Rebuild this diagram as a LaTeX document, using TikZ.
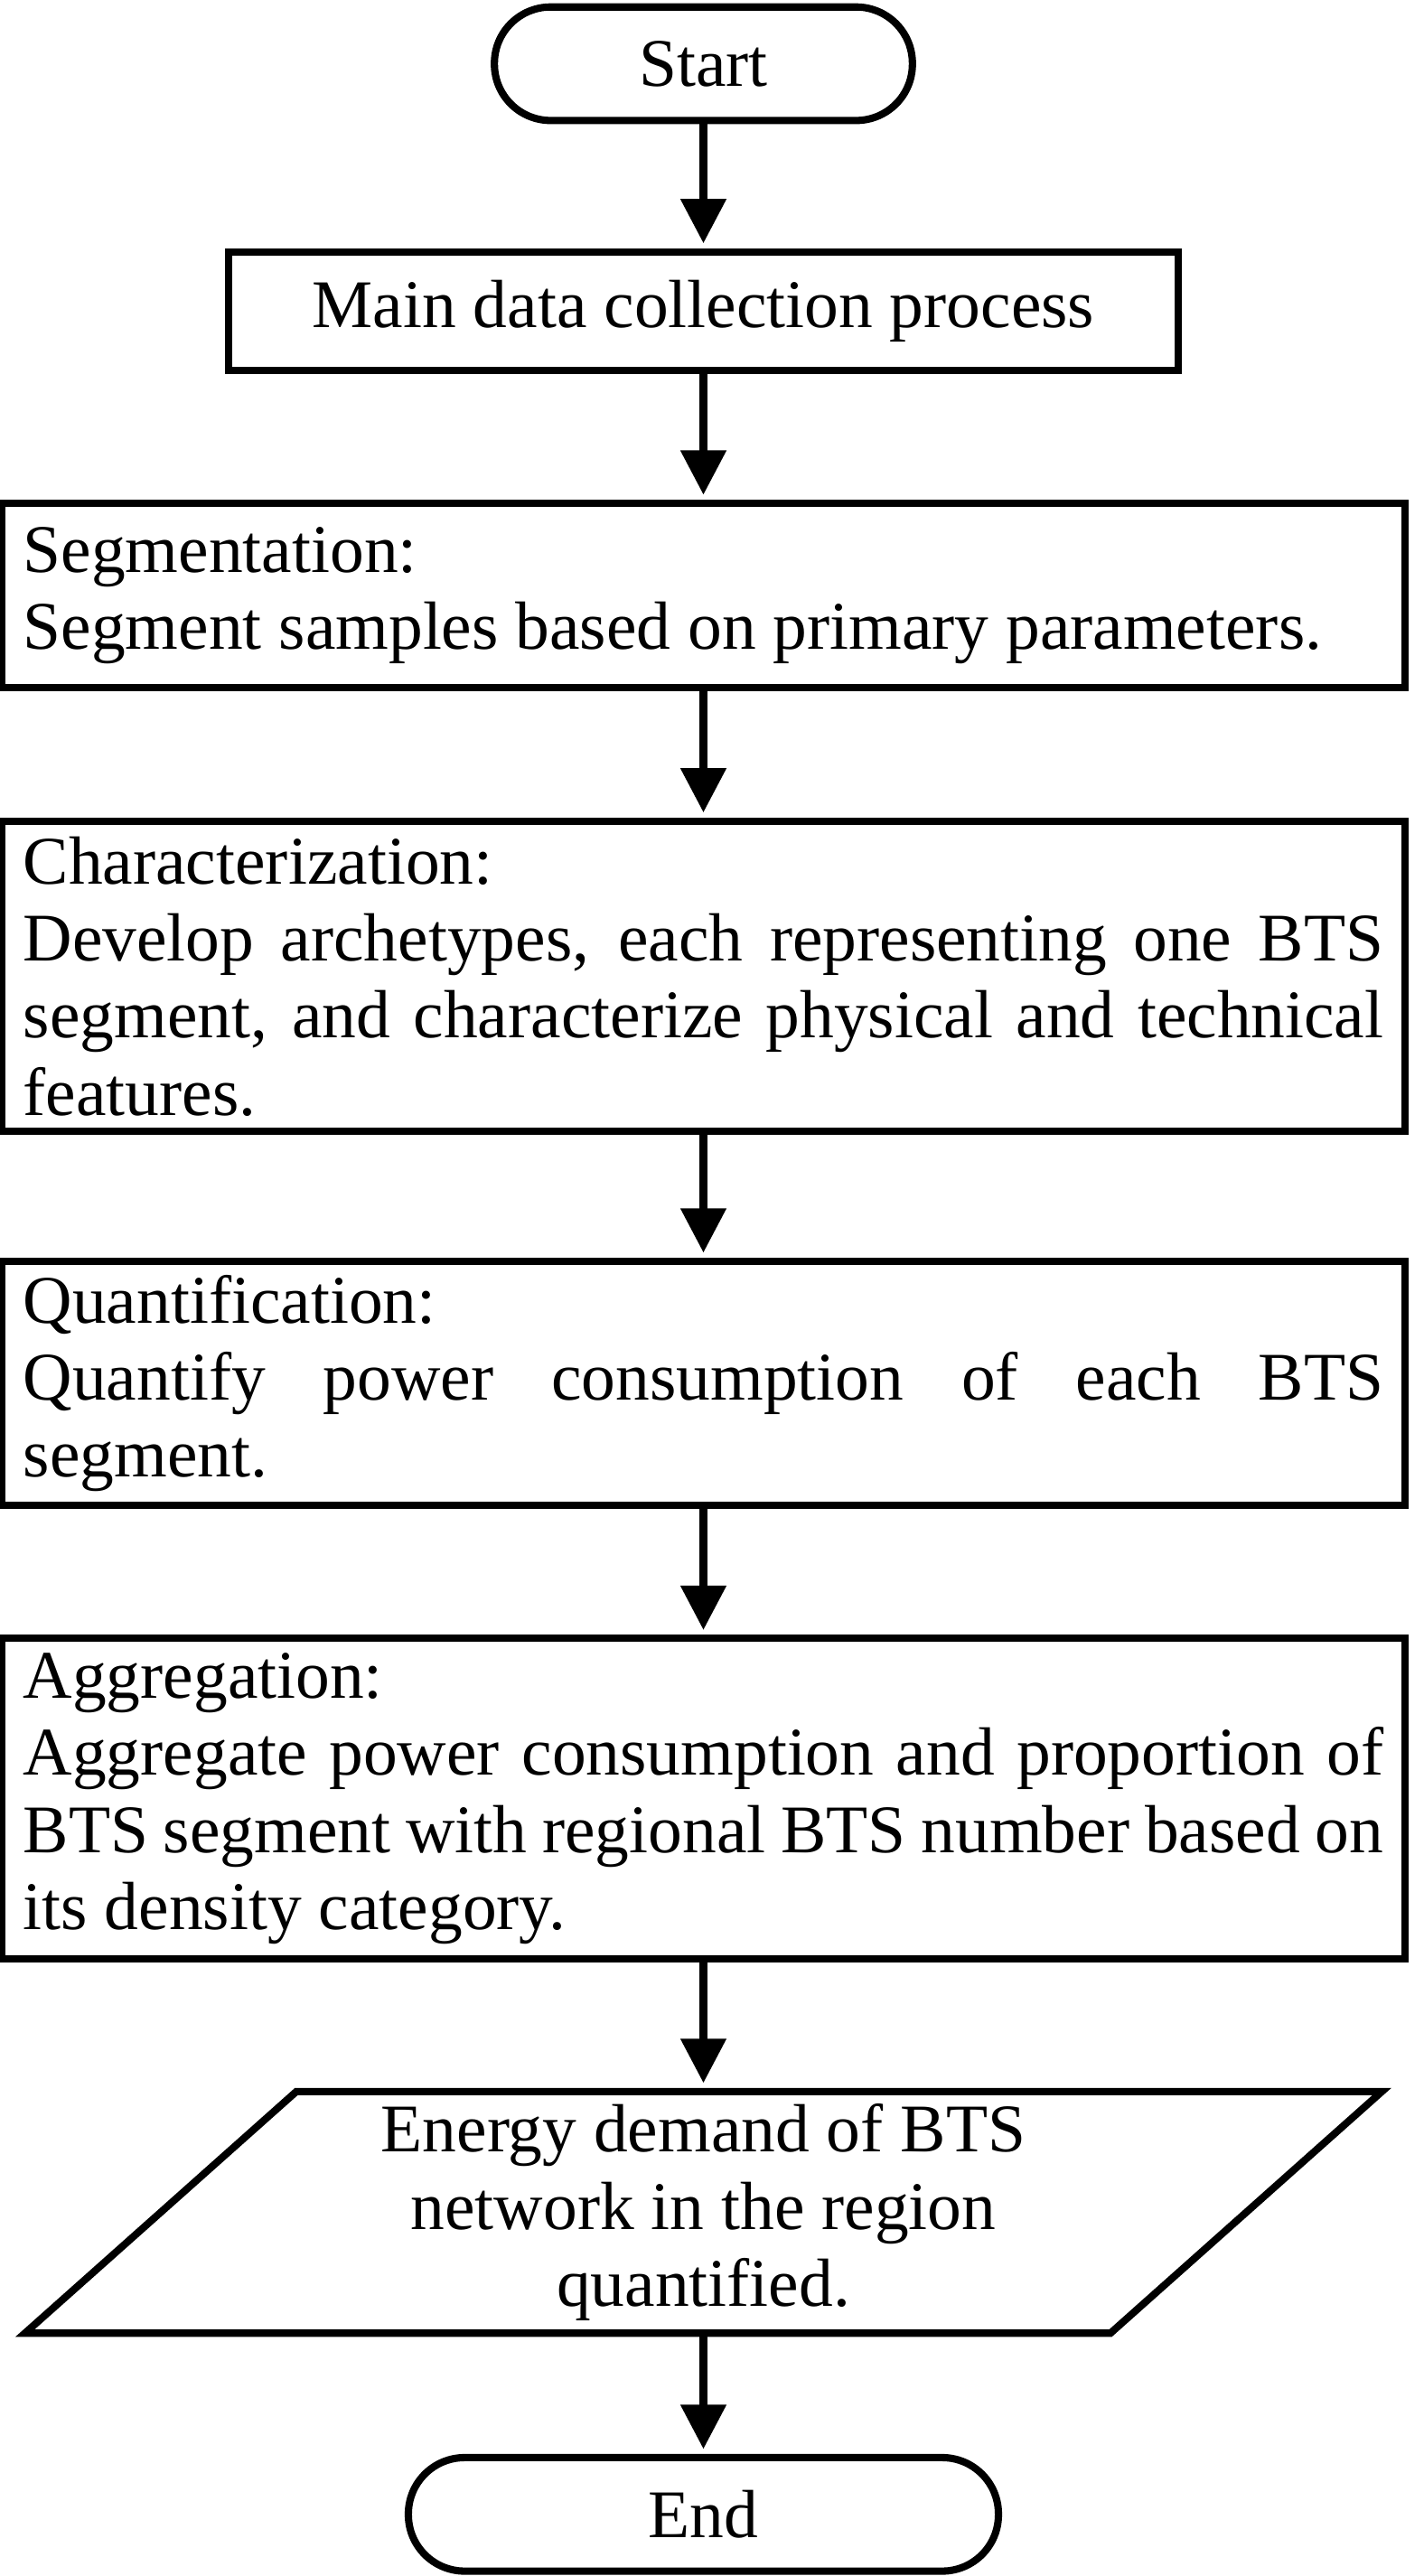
\documentclass[tikz,border=0pt]{standalone}
\usepackage{fontspec}
\setmainfont{Liberation Serif}
\usetikzlibrary{arrows.meta}
\setlength{\parindent}{0pt}

\begin{document}
\begin{tikzpicture}[
        every node/.style={font=\fontsize{20.6}{23.3}\selectfont},
        terminal/.style={draw, line width=2.2pt, rounded corners=17pt, minimum height=34.3pt},
        process/.style={draw, line width=2.2pt, minimum width=286.8pt, minimum height=35.8pt},
        stepbox/.style={draw, line width=2.2pt, text width=411pt, inner xsep=6.5pt, inner ysep=0pt, align=justify},
        iobox/.style={inner sep=0pt, outer sep=0pt, minimum width=328pt, minimum height=73pt, align=center},
        flow/.style={line width=2.2pt, -{Triangle[length=13.4pt, width=13.4pt]}, shorten >=1.5pt}
    ]
        \useasboundingbox (0,0) rectangle (15.113,-27.357);
        \node[terminal, minimum width=126.3pt] (start) at (7.47,-0.677) {Start};
        \node[process] (collect) at (7.47,-3.304) {Main data collection process};
        \node[stepbox, minimum height=55.8pt] (segment) at (7.47,-6.326)
            {Segmentation:\\Segment samples based on primary parameters.};
        \node[stepbox, minimum height=93.8pt] (character) at (7.47,-10.368)
            {Characterization:\\Develop archetypes, each representing one BTS\linebreak segment, and characterize physical and technical\linebreak features.};
        \node[stepbox, minimum height=73.8pt] (quantify) at (7.47,-14.691)
            {Quantification:\\Quantify power consumption of each BTS\linebreak segment.};
        \node[stepbox, minimum height=96.8pt] (aggregate) at (7.47,-19.102)
            {Aggregation:\\Aggregate power consumption and proportion of\linebreak BTS segment with regional BTS number based on\linebreak its density category.};
        \node[iobox] (demand) at (7.47,-23.495) {Energy demand of BTS\\network in the region\\quantified.};
        \draw[line width=2.2pt] ([xshift=41pt]demand.north west) -- ([xshift=41pt]demand.north east)
            -- ([xshift=-41pt]demand.south east) -- ([xshift=-41pt]demand.south west) -- cycle;
        \node[terminal, minimum width=178.3pt] (finish) at (7.47,-26.702) {End};
        \draw[flow] (start) -- (collect);
        \draw[flow] (collect) -- (segment);
        \draw[flow] (segment) -- (character);
        \draw[flow] (character) -- (quantify);
        \draw[flow] (quantify) -- (aggregate);
        \draw[flow, shorten >=2.6pt] (aggregate) -- (demand);
        \draw[flow] (demand) -- (finish);
    \end{tikzpicture}
\end{document}
